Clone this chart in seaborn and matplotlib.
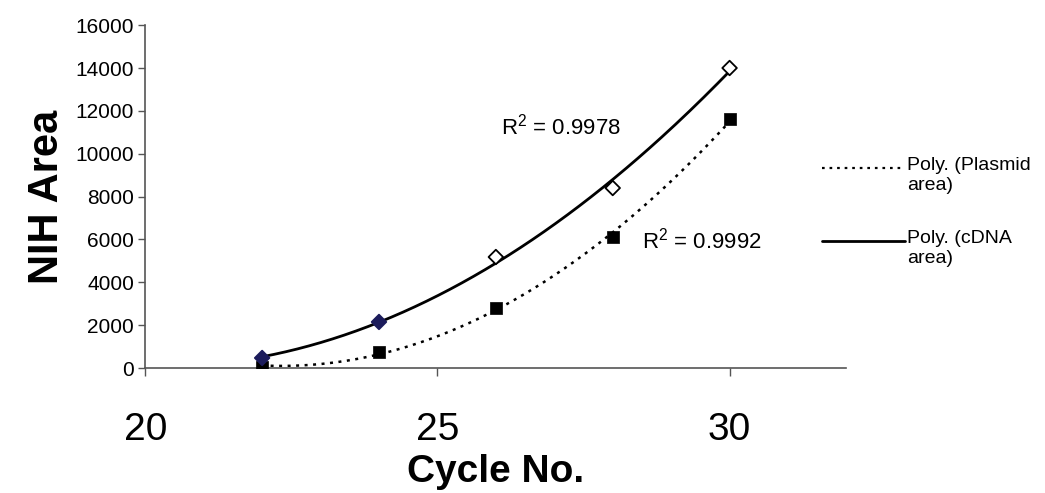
import numpy as np
import seaborn as sns
import matplotlib
matplotlib.use("Agg")
import matplotlib.pyplot as plt
from matplotlib.lines import Line2D

# PCR cycle number vs. band area (NIH Image units)
cycles = [22, 24, 26, 28, 30]
cdna_area = [470, 2150, 5180, 8400, 14000]
plasmid_area = [50, 750, 2800, 6100, 11600]

x_ticks = [20, 25, 30]
y_ticks = [0, 2000, 4000, 6000, 8000, 10000, 12000, 14000, 16000]

r2_cdna = "0.9978"
r2_plasmid = "0.9992"
legend_labels = ["Poly. (Plasmid\narea)", "Poly. (cDNA\narea)"]

sns.set_theme(style="ticks")
plt.rcParams["font.family"] = ["Liberation Sans", "DejaVu Sans"]
plt.rcParams["text.color"] = "black"
plt.rcParams["axes.labelcolor"] = "black"
plt.rcParams["mathtext.fontset"] = "custom"
plt.rcParams["mathtext.rm"] = "Liberation Sans"
plt.rcParams["mathtext.default"] = "regular"

fig = plt.figure(figsize=(10.45, 4.93), dpi=100)
ax = fig.add_axes([0.139, 0.2535, 0.671, 0.6955])

# second-order polynomial trendlines
xs = np.linspace(min(cycles), max(cycles), 200)
fit_cdna = np.polyval(np.polyfit(cycles, cdna_area, 2), xs)
fit_plasmid = np.polyval(np.polyfit(cycles, plasmid_area, 2), xs)

sns.lineplot(x=xs, y=fit_plasmid, ax=ax, color="black", linewidth=1.8,
             linestyle=(0, (1.2, 2.2)))
sns.lineplot(x=xs, y=fit_cdna, ax=ax, color="black", linewidth=2.0)

# measured points
sns.scatterplot(x=cycles, y=plasmid_area, ax=ax, marker="s", s=85,
                color="black", edgecolor="black", linewidth=0.5, zorder=4)
sns.scatterplot(x=cycles, y=cdna_area, ax=ax, marker="D", s=55,
                color="white", edgecolor="black", linewidth=1.3, zorder=5)
ax.collections[-1].set_facecolors(["#1c1c5c", "#1c1c5c", "white", "white", "white"])
ax.collections[-1].set_edgecolors(["#1c1c5c", "#1c1c5c", "black", "black", "black"])

ax.set_xlim(20, 32)
ax.set_ylim(0, 16000)
ax.set_xticks(x_ticks)
ax.set_yticks(y_ticks)
ax.set_xticklabels([str(v) for v in x_ticks], fontsize=28)
ax.set_yticklabels([str(v) for v in y_ticks], fontsize=15)
ax.tick_params(axis="x", length=6, width=1, pad=26, colors="#555555", labelcolor="black")
ax.tick_params(axis="y", length=5, width=1, pad=3, colors="#555555", labelcolor="black")

for side in ("top", "right"):
    ax.spines[side].set_visible(False)
for side in ("left", "bottom"):
    ax.spines[side].set_color("#555555")
    ax.spines[side].set_linewidth(1.2)

ax.set_xlabel("Cycle No.", fontsize=28, fontweight="bold", labelpad=4)
ax.set_ylabel("NIH Area", fontsize=30, fontweight="bold", labelpad=6)

ax.text(0.508, 0.703, f"R$^2$ = {r2_cdna}", transform=ax.transAxes,
        fontsize=16, va="center", ha="left")
ax.text(0.708, 0.372, f"R$^2$ = {r2_plasmid}", transform=ax.transAxes,
        fontsize=16, va="center", ha="left")

# legend entries for the two trendlines
legend_rows = [(0.659, (0, (1.2, 2.2)), 1.6), (0.511, "-", 2.0)]
for (ly, ls, lw), label in zip(legend_rows, legend_labels):
    fig.add_artist(Line2D([0.787, 0.866], [ly, ly], transform=fig.transFigure,
                          color="black", linestyle=ls, linewidth=lw))
    fig.text(0.868, ly + 0.022, label, fontsize=14, va="top", ha="left",
             linespacing=1.2)

fig.savefig("out.png", dpi=100, facecolor="white")
